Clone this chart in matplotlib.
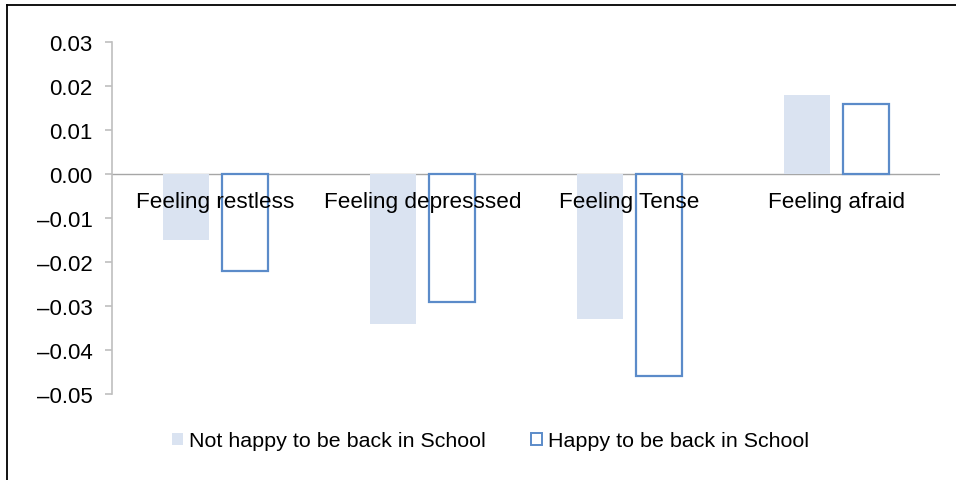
import matplotlib
matplotlib.use("Agg")
import matplotlib.pyplot as plt
import numpy as np
from matplotlib.lines import Line2D

plt.rcParams['font.family'] = ['Liberation Sans', 'DejaVu Sans']

categories = ["Feeling restless", "Feeling depresssed", "Feeling Tense", "Feeling afraid"]
not_happy = [-0.015, -0.034, -0.033, 0.018]
happy = [-0.022, -0.029, -0.046, 0.016]
series_names = ["Not happy to be back in School", "Happy to be back in School"]
yticks = [0.03, 0.02, 0.01, 0.00, -0.01, -0.02, -0.03, -0.04, -0.05]

fill_color = "#dae3f1"
edge_color = "#5b8bc9"

fig = plt.figure(figsize=(9.56, 4.81), dpi=100)
ax = fig.add_axes([112/956, 1-395/481, 828/956, 352/481])

x = np.arange(len(categories))
w = 0.222
off = 0.1425
ax.bar(x - off, not_happy, width=w, color=fill_color, edgecolor='none', label=series_names[0])
ax.bar(x + off, happy, width=w, facecolor='white', edgecolor=edge_color, linewidth=1.6, label=series_names[1])

ax.set_xlim(-0.5, len(categories) - 0.5)
ax.set_ylim(-0.05, 0.03)
ax.set_yticks(yticks)
ax.set_yticklabels([f"{v:.2f}".replace("-", "\u2013") if v != 0 else "0.00" for v in yticks])
ax.axhline(0, color="#a6a6a6", linewidth=1.0, zorder=0.5)

for s in ['top', 'right', 'bottom']:
    ax.spines[s].set_visible(False)
ax.spines['left'].set_color("#bfbfbf")
ax.spines['left'].set_linewidth(1.2)
ax.tick_params(axis='y', colors="#bfbfbf", labelcolor='black', labelsize=16, length=5, width=1.2, pad=9)
ax.set_xticks([])

for xi, lab in zip(x, categories):
    ax.annotate(lab, (xi, 0), xytext=(0, -28*72/100), textcoords='offset points',
                ha='center', va='center', fontsize=16.2, color='black')

handles = [
    plt.Rectangle((0, 0), 1, 1, facecolor=fill_color, edgecolor='none'),
    plt.Rectangle((0, 0), 1, 1, facecolor='white', edgecolor=edge_color, linewidth=1.4),
]
leg = ax.legend(handles, series_names, loc='center', bbox_to_anchor=(0.4575, -0.1335),
                ncol=2, frameon=False, fontsize=15.4, handlelength=0.5, handleheight=0.5,
                handletextpad=0.3, columnspacing=2.1, borderaxespad=0)

fig.add_artist(Line2D([7/956, 7/956], [0, 1-6/481], color='black', linewidth=1.3, transform=fig.transFigure))
fig.add_artist(Line2D([7/956, 1], [1-6/481, 1-6/481], color='black', linewidth=1.3, transform=fig.transFigure))

fig.savefig("out.png", dpi=100)
